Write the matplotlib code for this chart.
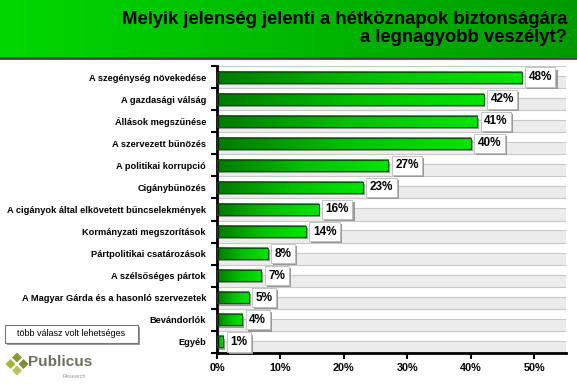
import numpy as np
import matplotlib.pyplot as plt
import matplotlib.patheffects as pe
from matplotlib.patches import Rectangle, Polygon
from matplotlib.colors import LinearSegmentedColormap

plt.rcParams['font.family'] = ['Liberation Sans', 'DejaVu Sans']

categories = [
    'A szegénység növekedése',
    'A gazdasági válság',
    'Állások megszűnése',
    'A szervezett bűnözés',
    'A politikai korrupció',
    'Cigánybűnözés',
    'A cigányok által elkövetett bűncselekmények',
    'Kormányzati megszorítások',
    'Pártpolitikai csatározások',
    'A szélsőséges pártok',
    'A Magyar Gárda és a hasonló szervezetek',
    'Bevándorlók',
    'Egyéb',
]
values = [48, 42, 41, 40, 27, 23, 16, 14, 8, 7, 5, 4, 1]
xticks = [0, 10, 20, 30, 40, 50]
title = 'Melyik jelenség jelenti a hétköznapok biztonságára\na legnagyobb veszélyt?'
note = 'több válasz volt lehetséges'

W, H = 577, 384
fig = plt.figure(figsize=(W / 100, H / 100), dpi=100)

# header band with green gradient
hdr = fig.add_axes([0, 1 - 57 / H, 1, 57 / H])
hdr_cmap = LinearSegmentedColormap.from_list('hdr', ['#00d800', '#009a00'])
hdr.imshow(np.linspace(0, 1, 256)[None, :], aspect='auto', cmap=hdr_cmap,
           extent=(0, 1, 0, 1))
hdr.set_xlim(0, 1)
hdr.set_ylim(0, 1)
hdr.axis('off')
hdr.text(567 / W, 0.5, title, ha='right', va='center', fontsize=13.3,
         fontweight='bold', linespacing=1.0, color='black')
fig.add_artist(plt.Line2D([0, 1], [1 - 58 / H, 1 - 58 / H], color='#444444', lw=2))

# main axes
ax = fig.add_axes([217 / W, 1 - 353 / H, 349 / W, 287 / H])
n = len(categories)
y = np.arange(n)
ax.set_xlim(0, 55)
ax.set_ylim(n - 0.5, -0.5)

# striped background
for i in y:
    ax.add_patch(Rectangle((0, i - 0.05), 55, 0.55, facecolor='#ececec', edgecolor='none', zorder=0))
for i in y:
    ax.axhline(i - 0.5, color='#c8c8c8', lw=0.8, zorder=0.5)
    ax.axhline(i - 0.05, color='#c8c8c8', lw=0.8, zorder=0.5)

bar_cmap = LinearSegmentedColormap.from_list('bar', ['#007a00', '#00c000', '#00e600'])
grad = np.linspace(0, 1, 256)[None, :]
h = 0.5
for i, v in zip(y, values):
    # bar shadow
    ax.add_patch(Rectangle((0.3, i - h / 2 + 0.1), v, h, facecolor='#9a9a9a',
                           edgecolor='none', zorder=1))
    ax.imshow(grad, aspect='auto', cmap=bar_cmap, extent=(0, v, i + h / 2, i - h / 2),
              zorder=2)
    ax.add_patch(Rectangle((0, i - h / 2), v, h, facecolor='none', edgecolor='#005a00',
                           lw=0.8, zorder=3))
    t = ax.text(v + 1.1, i, f'{v}%', ha='left', va='center', fontsize=8.5,
                fontweight='bold', zorder=4,
                bbox=dict(boxstyle='square,pad=0.3', facecolor='white',
                          edgecolor='#bbbbbb', lw=0.6))
    t.get_bbox_patch().set_path_effects([
        pe.SimplePatchShadow(offset=(1.5, -1.5), shadow_rgbFace='#999999', alpha=1),
        pe.Normal()])

ax.set_yticks(y)
ax.set_yticklabels(categories, fontsize=6.7, fontweight='bold')
ax.set_yticks(np.arange(-0.5, n, 1), minor=True)
ax.tick_params(axis='y', which='major', length=0, pad=8)
ax.tick_params(axis='y', which='minor', length=4, width=1.5, direction='out')
ax.set_xticks(xticks)
ax.set_xticklabels([f'{t}%' for t in xticks], fontsize=7.8, fontweight='bold')
ax.tick_params(axis='x', length=4, width=1.5, direction='out', pad=3)
for s in ['top', 'right']:
    ax.spines[s].set_visible(False)
ax.spines['left'].set_linewidth(2)
ax.spines['bottom'].set_linewidth(2)
ax.set_xlim(0, 55)
ax.set_ylim(n - 0.5, -0.5)

# note box
fig.patches.append(Rectangle((7 / W, 1 - 345 / H), 133 / W, 18 / H, transform=fig.transFigure,
                             facecolor='#999999', edgecolor='none'))
fig.patches.append(Rectangle((5 / W, 1 - 343 / H), 133 / W, 18 / H, transform=fig.transFigure,
                             facecolor='white', edgecolor='#777777', lw=0.8))
fig.text(71 / W, 1 - 334 / H, note, ha='center', va='center', fontsize=6.5)

# logo: four small diamonds
d = 5
for dx, dy, c in [(0, -1, '#8a9a2a'), (-1, 0, '#a7b43c'), (1, 0, '#7f8a3a'), (0, 1, '#b9c45a')]:
    px, py = 17 + dx * 6.5, 364 + dy * 6.5
    pts = [(px / W, 1 - (py - d) / H), ((px + d) / W, 1 - py / H),
           (px / W, 1 - (py + d) / H), ((px - d) / W, 1 - py / H)]
    fig.patches.append(Polygon(pts, closed=True, transform=fig.transFigure,
                               facecolor=c, edgecolor='none'))
fig.text(28 / W, 1 - 362 / H, 'Publicus', ha='left', va='center', fontsize=11,
         fontweight='bold', color='#6e6e60')
fig.text(86 / W, 1 - 376 / H, 'Research', ha='right', va='center', fontsize=4,
         color='#999999')

fig.savefig('out.png', dpi=100)
